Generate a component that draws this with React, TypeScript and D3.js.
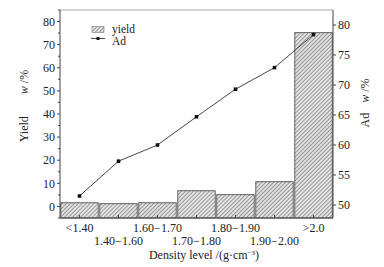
import React from "react";
import * as d3 from "d3";

const categories = ["<1.40", "1.40−1.60", "1.60−1.70", "1.70−1.80", "1.80−1.90", "1.90−2.00", ">2.0"];
const yieldValues = [1.6, 1.2, 1.6, 6.8, 5.1, 10.7, 75.2];
const adValues = [51.5, 57.3, 60.0, 64.7, 69.3, 72.9, 78.4];
const leftTicks = [0, 10, 20, 30, 40, 50, 60, 70, 80];
const rightTicks = [50, 55, 60, 65, 70, 75, 80];

const W = 384, H = 267;
const L = 60, R = 333, T = 10, B = 218;
const FONT = "'Liberation Serif', 'DejaVu Serif', serif";

export default function App() {
  const x = d3.scaleBand<string>().domain(categories).range([L, R]).paddingInner(0.04).paddingOuter(0.02);
  const yL = d3.scaleLinear().domain([-5, 85]).range([B, T]);
  const yR = d3.scaleLinear().domain([47.83, 82.5]).range([B, T]);
  const cx = (c: string) => (x(c) as number) + x.bandwidth() / 2;
  const line = d3.line<number>().x((_, i) => cx(categories[i])).y((d) => yR(d));
  const leftMinor = d3.range(-5, 86, 5).filter((v) => v % 10 !== 0);
  const axisColor = "#444";

  return (
    <svg width={W} height={H} style={{ position: "absolute", left: 0, top: 0, background: "#fff" }} fontFamily={FONT}>
      <defs>
        <pattern id="hatch" width="2.8" height="2.8" patternUnits="userSpaceOnUse" patternTransform="rotate(45)">
          <rect width="2.8" height="2.8" fill="#e4e4e4" />
          <line x1="0" y1="0" x2="0" y2="2.8" stroke="#4a4a4a" strokeWidth="1" />
        </pattern>
      </defs>
      {/* bars */}
      {yieldValues.map((v, i) => (
        <rect key={i} x={x(categories[i])} y={yL(v)} width={x.bandwidth()} height={B - yL(v)}
          fill="url(#hatch)" stroke="#555" strokeWidth={0.9} />
      ))}
      {/* frame */}
      <line x1={L} y1={T} x2={R} y2={T} stroke="#aaa" strokeWidth={1.2} />
      <line x1={L} y1={T} x2={L} y2={B} stroke={axisColor} strokeWidth={1} />
      <line x1={R} y1={T} x2={R} y2={B} stroke={axisColor} strokeWidth={1} />
      <line x1={L} y1={B} x2={R} y2={B} stroke={axisColor} strokeWidth={1} />
      {/* left ticks */}
      {leftTicks.map((t) => (
        <g key={t}>
          <line x1={L - 3} x2={L} y1={yL(t)} y2={yL(t)} stroke={axisColor} />
          <text x={L - 5} y={yL(t)} dy="0.35em" textAnchor="end" fontSize={12} fill="#222">{t}</text>
        </g>
      ))}
      {leftMinor.map((t) => (
        <line key={"m" + t} x1={L - 2} x2={L} y1={yL(t)} y2={yL(t)} stroke={axisColor} />
      ))}
      {/* right ticks */}
      {rightTicks.map((t) => (
        <g key={t}>
          <line x1={R} x2={R + 3} y1={yR(t)} y2={yR(t)} stroke={axisColor} />
          <text x={R + 5} y={yR(t)} dy="0.35em" textAnchor="start" fontSize={12} fill="#222">{t}</text>
        </g>
      ))}
      {/* x ticks */}
      {categories.map((c, i) => (
        <g key={c}>
          <line x1={cx(c)} x2={cx(c)} y1={B} y2={B - 3} stroke={axisColor} />
          <text x={cx(c)} y={i % 2 === 0 ? 232 : 245} textAnchor="middle" fontSize={12} fill="#222">{c}</text>
        </g>
      ))}
      {/* line series */}
      <path d={line(adValues) || ""} fill="none" stroke="#333" strokeWidth={0.9} />
      {adValues.map((v, i) => (
        <rect key={i} x={cx(categories[i]) - 1.8} y={yR(v) - 1.8} width={3.6} height={3.6} fill="#111" />
      ))}
      {/* legend */}
      <rect x={92} y={26.5} width={12} height={6} fill="url(#hatch)" stroke="#777" strokeWidth={0.6} />
      <text x={112} y={32.5} fontSize={11.5} fill="#222">yield</text>
      <line x1={91} x2={105} y1={38.5} y2={38.5} stroke="#333" strokeWidth={0.9} />
      <rect x={96.5} y={37} width={3} height={3} fill="#111" />
      <text x={112} y={44.5} fontSize={11.5} fill="#222">Ad</text>
      {/* axis titles */}
      <text transform="translate(28,106) rotate(-90)" textAnchor="middle" fontSize={12} fill="#222">
        <tspan>Yield</tspan>
        <tspan dx={22} fontStyle="italic">w</tspan>
        <tspan> /%</tspan>
      </text>
      <text transform="translate(369,103) rotate(-90)" textAnchor="middle" fontSize={12} fill="#222">
        <tspan>Ad</tspan>
        <tspan dx={10} fontStyle="italic">w</tspan>
        <tspan> /%</tspan>
      </text>
      <text x={204} y={259} textAnchor="middle" fontSize={12} fill="#222">
        Density level /(g·cm<tspan fontSize={7} dy={-4}>−3</tspan><tspan dy={4}>)</tspan>
      </text>
    </svg>
  );
}
